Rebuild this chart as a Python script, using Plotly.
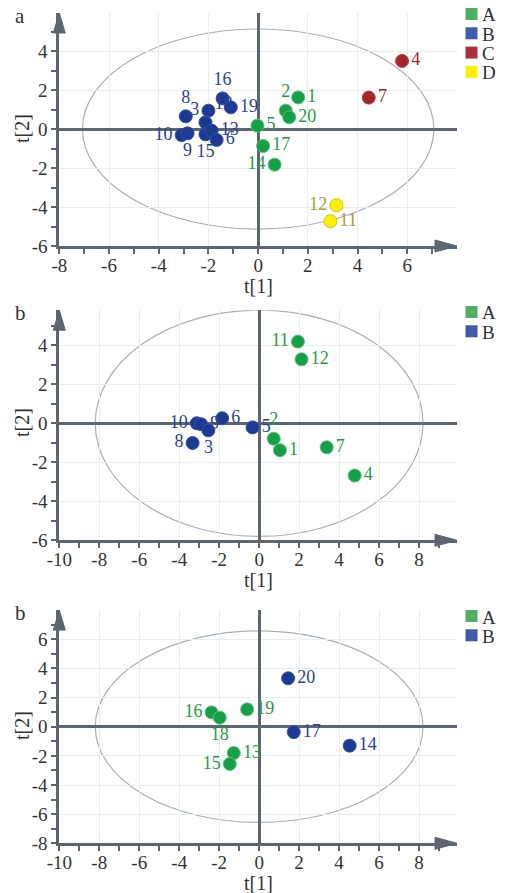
import plotly.graph_objects as go

# ---------------- data ----------------
# Panel a
a_groups = ["A", "B", "C", "D"]
a_A_ids = ["1", "2", "20", "5", "17", "14"]
a_A_t1 = [1.61, 1.11, 1.25, -0.03, 0.20, 0.66]
a_A_t2 = [1.62, 0.94, 0.60, 0.17, -0.87, -1.83]
a_B_ids = ["16", "19", "3", "18", "8", "10", "9", "15", "13", "6"]
a_B_t1 = [-1.43, -1.10, -2.00, -2.12, -2.91, -3.08, -2.84, -2.12, -1.87, -1.67]
a_B_t2 = [1.57, 1.11, 0.94, 0.34, 0.65, -0.31, -0.22, -0.27, -0.09, -0.56]
a_C_ids = ["4", "7"]
a_C_t1 = [5.79, 4.45]
a_C_t2 = [3.49, 1.61]
a_D_ids = ["12", "11"]
a_D_t1 = [3.15, 2.91]
a_D_t2 = [-3.91, -4.73]
a_ellipse = [7.07, 5.13]

# Panel b (first)
b_groups = ["A", "B"]
b_A_ids = ["11", "12", "2", "1", "7", "4"]
b_A_t1 = [1.94, 2.12, 0.73, 1.04, 3.38, 4.78]
b_A_t2 = [4.19, 3.28, -0.79, -1.38, -1.23, -2.68]
b_B_ids = ["5", "6", "10", "9", "3", "8"]
b_B_t1 = [-0.33, -1.85, -3.12, -2.90, -2.54, -3.33]
b_B_t2 = [-0.21, 0.26, 0.00, -0.05, -0.36, -1.01]
b_ellipse = [8.2, 5.8]

# Panel b (second)
c_groups = ["A", "B"]
c_A_ids = ["19", "16", "18", "13", "15"]
c_A_t1 = [-0.60, -2.38, -1.97, -1.27, -1.47]
c_A_t2 = [1.19, 0.98, 0.62, -1.81, -2.56]
c_B_ids = ["20", "17", "14"]
c_B_t1 = [1.45, 1.73, 4.53]
c_B_t2 = [3.32, -0.37, -1.30]
c_ellipse = [8.2, 6.57]

panel_letters = ["a", "b", "b"]
x_title = "t[1]"
y_title = "t[2]"

# ---------------- styles ----------------
FONT = "Liberation Serif, Times New Roman, serif"
AX = "#5b6670"
GRID = "#e6eef3"
ELL = "#a7b0b9"
TC = "#333333"
MK = {"A": "#14a044", "B": "#1d3a93", "C": "#a3242a", "D": "#fff000"}
MKL = {"A": "#5cc07a", "B": "#3550a8", "C": "#b8454a", "D": "#d8c400"}
TXT = {"A": "#2a9a4a", "B": "#2d3f90", "C": "#a0292e", "D": "#a99b36"}
LEG = {"A": "#4daf5f", "B": "#3d5cae", "C": "#b02f38", "D": "#ffee00"}

W, H = 508, 893
XL, XR = 59.3, 457.0

def px_y(p):
    return 1 - p / H

panels = [
    dict(xr=[-8, 8.0], yr=[-6, 5.95], ypx=(246.0, 13.0),
         xt=list(range(-8, 7, 2)), xm=list(range(-7, 8, 2)),
         yt=list(range(-6, 5, 2)), ym=list(range(-5, 6, 2))),
    dict(xr=[-10, 9.9], yr=[-6, 5.8], ypx=(540.3, 310.2),
         xt=list(range(-10, 9, 2)), xm=list(range(-9, 10, 2)),
         yt=list(range(-6, 5, 2)), ym=list(range(-5, 6, 2))),
    dict(xr=[-10, 9.9], yr=[-8, 8.0], ypx=(843.3, 610.1),
         xt=list(range(-10, 9, 2)), xm=list(range(-9, 10, 2)),
         yt=list(range(-8, 7, 2)), ym=list(range(-7, 8, 2))),
]
legend_groups = [a_groups, b_groups, c_groups]
legend_first_px = [14, 312, 616]
legend_step = 19.3

fig = go.Figure()

def add_group(panel_idx, grp, ids, t1, t2, tpos):
    sfx = "" if panel_idx == 0 else str(panel_idx + 1)
    fig.add_trace(go.Scatter(
        x=t1, y=t2, text=ids, mode="markers+text", name=grp,
        textposition=tpos,
        textfont=dict(family=FONT, size=18, color=TXT[grp]),
        marker=dict(size=13, color=MK[grp], line=dict(color=MKL[grp], width=1)),
        xaxis="x" + sfx, yaxis="y" + sfx, showlegend=False,
        hoverinfo="skip", cliponaxis=False,
    ))

# panel a
add_group(0, "A", a_A_ids, a_A_t1, a_A_t2,
          ["middle right", "top center", "middle right", "middle right", "middle right", "middle left"])
add_group(0, "B", a_B_ids, a_B_t1, a_B_t2,
          ["top center", "middle right", "middle left", "top right", "top center",
           "middle left", "bottom center", "bottom center", "middle right", "middle right"])
add_group(0, "C", a_C_ids, a_C_t1, a_C_t2, ["middle right", "middle right"])
add_group(0, "D", a_D_ids, a_D_t1, a_D_t2, ["middle left", "middle right"])

# panel b
add_group(1, "A", b_A_ids, b_A_t1, b_A_t2,
          ["middle left", "middle right", "top center", "middle right", "middle right", "middle right"])
add_group(1, "B", b_B_ids, b_B_t1, b_B_t2,
          ["middle right", "middle right", "middle left", "middle right", "bottom center", "middle left"])

# panel c
add_group(2, "A", c_A_ids, c_A_t1, c_A_t2,
          ["middle right", "middle left", "bottom center", "middle right", "middle left"])
add_group(2, "B", c_B_ids, c_B_t1, c_B_t2,
          ["middle right", "middle right", "middle right"])

ellipses = [a_ellipse, b_ellipse, c_ellipse]
shapes = []
annotations = []
layout = {}
for i, p in enumerate(panels):
    sfx = "" if i == 0 else str(i + 1)
    yb, yt = p["ypx"]
    dom_y = [px_y(yb), px_y(yt)]
    dom_x = [XL / W, XR / W]
    common = dict(
        showline=True, linecolor=AX, linewidth=3,
        ticks="outside", ticklen=5, tickwidth=2, tickcolor=AX,
        showgrid=True, gridcolor=GRID, gridwidth=1,
        zeroline=True, zerolinecolor=AX, zerolinewidth=2.5,
        tickfont=dict(family=FONT, size=19, color=TC),
        tickmode="array", fixedrange=True, automargin=False,
    )
    layout["xaxis" + sfx] = dict(
        common, domain=dom_x, range=p["xr"], anchor="y" + sfx,
        tickvals=p["xt"], ticktext=[str(v) for v in p["xt"]],
        ticklabelstandoff=-5,
        minor=dict(tickmode="array", tickvals=p["xm"], ticks="outside", ticklen=5,
                   tickwidth=2, tickcolor=AX, showgrid=False),
    )
    layout["yaxis" + sfx] = dict(
        common, domain=dom_y, range=p["yr"], anchor="x" + sfx,
        tickvals=p["yt"], ticktext=[str(v) for v in p["yt"]],
        minor=dict(tickmode="array", tickvals=p["ym"], ticks="outside", ticklen=5,
                   tickwidth=2, tickcolor=AX, showgrid=False),
    )
    ea, eb = ellipses[i]
    shapes.append(dict(type="circle", xref="x" + sfx, yref="y" + sfx,
                       x0=-ea, x1=ea, y0=-eb, y1=eb,
                       line=dict(color=ELL, width=1.2), layer="below"))
    # arrowheads (paper anchored, pixel sized)
    shapes.append(dict(type="path", xref="paper", yref="paper",
                       xsizemode="pixel", ysizemode="pixel",
                       xanchor=dom_x[0], yanchor=dom_y[1],
                       path="M -6,-20 L 0,0 L 6,-20 Z",
                       fillcolor=AX, line=dict(color=AX, width=1)))
    shapes.append(dict(type="path", xref="paper", yref="paper",
                       xsizemode="pixel", ysizemode="pixel",
                       xanchor=dom_x[1], yanchor=dom_y[0],
                       path="M -22,-6 L 0,0 L -22,6 Z",
                       fillcolor=AX, line=dict(color=AX, width=1)))
    # axis titles
    annotations.append(dict(text=x_title, xref="paper", yref="paper",
                            x=258 / W, y=px_y(yb + 40), xanchor="center", yanchor="middle",
                            showarrow=False, font=dict(family=FONT, size=20, color=TC)))
    ymid = [129, 423, 726][i]
    annotations.append(dict(text=y_title, xref="paper", yref="paper", textangle=-90,
                            x=22 / W, y=px_y(ymid), xanchor="center", yanchor="middle",
                            showarrow=False, font=dict(family=FONT, size=20, color=TC)))
    # panel letter
    annotations.append(dict(text=panel_letters[i], xref="paper", yref="paper",
                            x=20 / W, y=px_y(yt + 3), xanchor="center", yanchor="middle",
                            showarrow=False, font=dict(family=FONT, size=21, color=TC)))
    # legend (category key)
    for k, g in enumerate(legend_groups[i]):
        cy = legend_first_px[i] + k * legend_step
        shapes.append(dict(type="rect", xref="paper", yref="paper",
                           x0=465.5 / W, x1=477.5 / W, y0=px_y(cy + 6), y1=px_y(cy - 6),
                           fillcolor=LEG[g], line=dict(width=0)))
        annotations.append(dict(text=g, xref="paper", yref="paper",
                                x=480 / W, y=px_y(cy + 1), xanchor="left", yanchor="middle",
                                showarrow=False, font=dict(family=FONT, size=19, color=TC)))

fig.update_layout(
    width=W, height=H, margin=dict(l=0, r=0, t=0, b=0),
    paper_bgcolor="white", plot_bgcolor="white", showlegend=False,
    shapes=shapes, annotations=annotations, **layout,
)

fig.write_html("out.html")
